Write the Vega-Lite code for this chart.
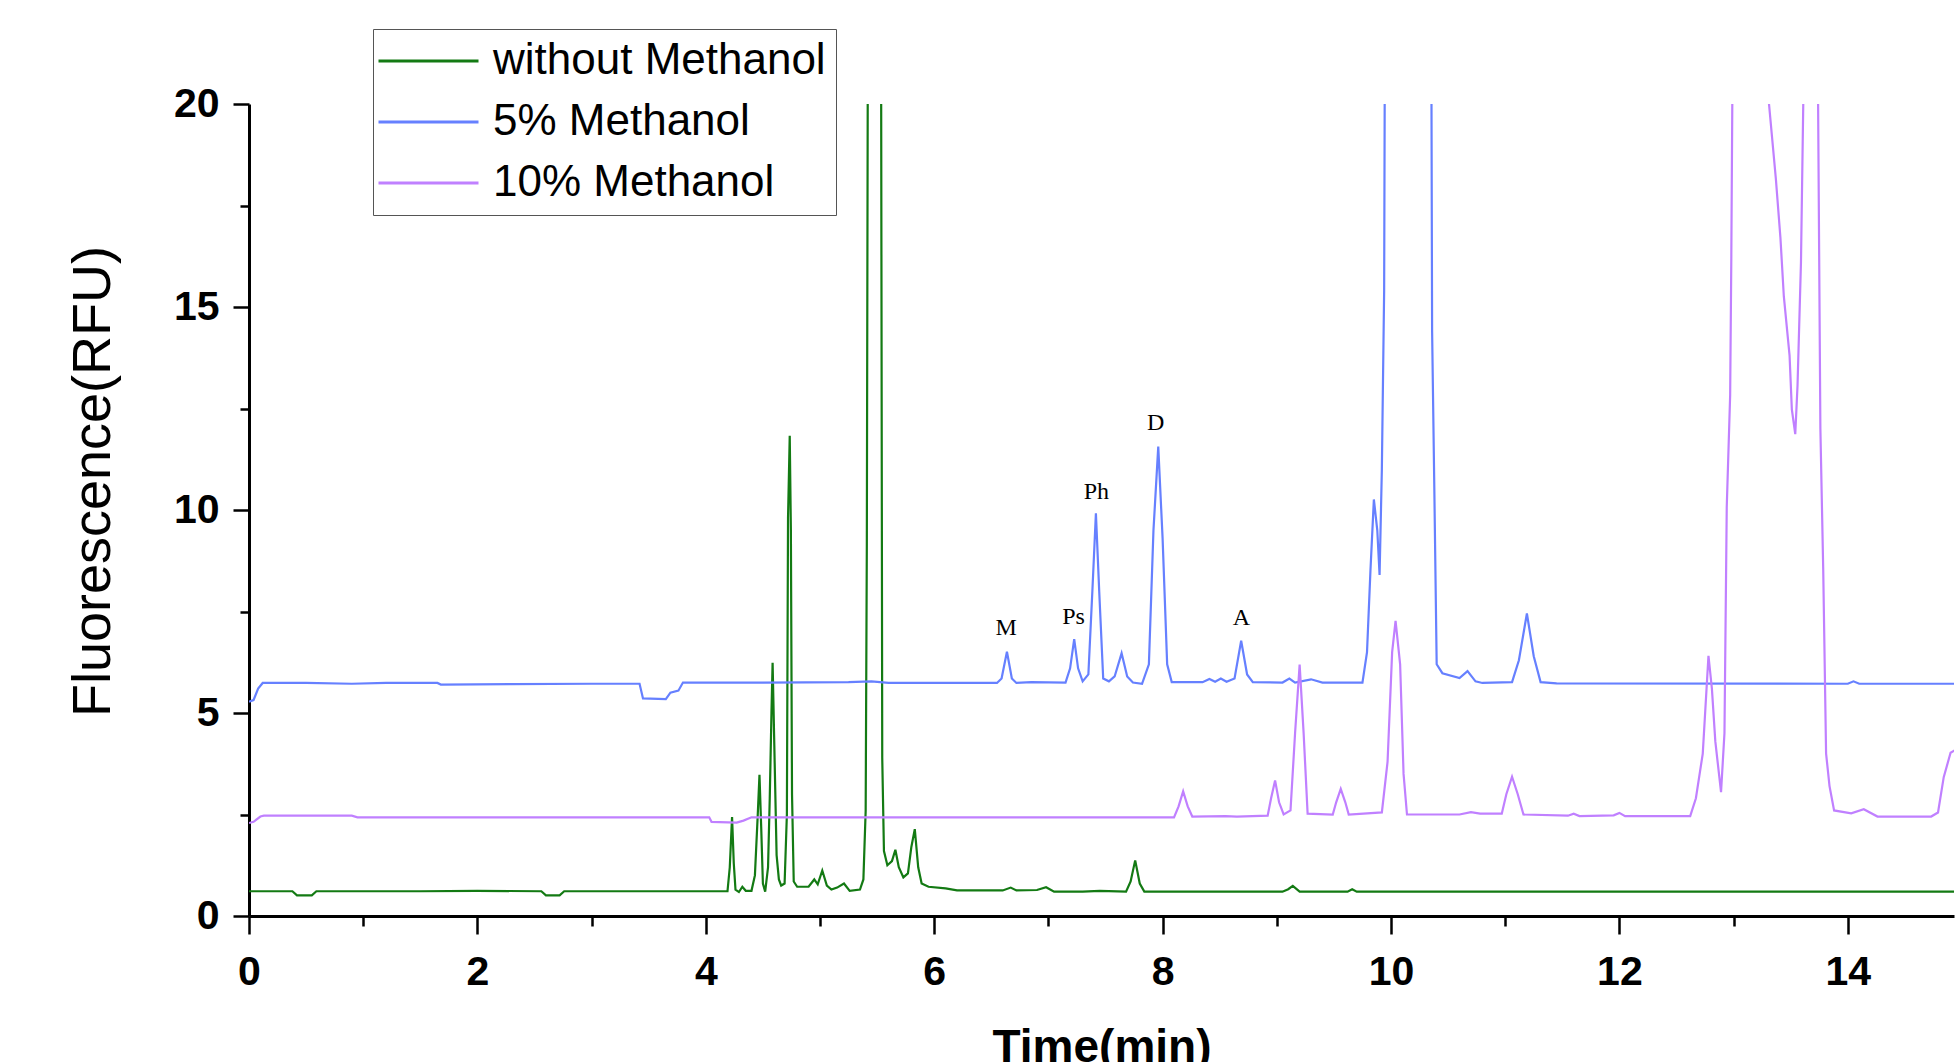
{
  "$schema": "https://vega.github.io/schema/vega-lite/v6.json",
  "width": 1705,
  "height": 812,
  "autosize": {"type": "none"},
  "padding": {"left": 249, "top": 104, "right": 1, "bottom": 146},
  "background": "white",
  "config": {"view": {"stroke": null}},
  "datasets": {
    "labels": [
      {"t": 6.63, "v": 7.09, "label": "M"},
      {"t": 7.22, "v": 7.37, "label": "Ps"},
      {"t": 7.42, "v": 10.45, "label": "Ph"},
      {"t": 7.94, "v": 12.15, "label": "D"},
      {"t": 8.69, "v": 7.33, "label": "A"}
    ],
    "traces": [
      {"series": "without Methanol", "t": 0, "v": 0.61},
      {"series": "without Methanol", "t": 0.38, "v": 0.61},
      {"series": "without Methanol", "t": 0.42, "v": 0.51},
      {"series": "without Methanol", "t": 0.55, "v": 0.51},
      {"series": "without Methanol", "t": 0.59, "v": 0.61},
      {"series": "without Methanol", "t": 1.5, "v": 0.61},
      {"series": "without Methanol", "t": 2.0, "v": 0.62},
      {"series": "without Methanol", "t": 2.56, "v": 0.61},
      {"series": "without Methanol", "t": 2.6, "v": 0.51},
      {"series": "without Methanol", "t": 2.72, "v": 0.51},
      {"series": "without Methanol", "t": 2.76, "v": 0.61},
      {"series": "without Methanol", "t": 4.19, "v": 0.61},
      {"series": "without Methanol", "t": 4.21, "v": 1.2},
      {"series": "without Methanol", "t": 4.23, "v": 2.44},
      {"series": "without Methanol", "t": 4.245, "v": 1.3},
      {"series": "without Methanol", "t": 4.26, "v": 0.65},
      {"series": "without Methanol", "t": 4.29, "v": 0.59},
      {"series": "without Methanol", "t": 4.32, "v": 0.72},
      {"series": "without Methanol", "t": 4.35, "v": 0.62},
      {"series": "without Methanol", "t": 4.4, "v": 0.62},
      {"series": "without Methanol", "t": 4.43, "v": 1.0},
      {"series": "without Methanol", "t": 4.455, "v": 2.5},
      {"series": "without Methanol", "t": 4.47, "v": 3.48},
      {"series": "without Methanol", "t": 4.485, "v": 2.2},
      {"series": "without Methanol", "t": 4.5, "v": 0.8},
      {"series": "without Methanol", "t": 4.52, "v": 0.6},
      {"series": "without Methanol", "t": 4.545, "v": 1.2},
      {"series": "without Methanol", "t": 4.56, "v": 2.9},
      {"series": "without Methanol", "t": 4.575, "v": 5.0},
      {"series": "without Methanol", "t": 4.585, "v": 6.24},
      {"series": "without Methanol", "t": 4.6, "v": 4.2},
      {"series": "without Methanol", "t": 4.62, "v": 1.5},
      {"series": "without Methanol", "t": 4.64, "v": 0.9},
      {"series": "without Methanol", "t": 4.66, "v": 0.75},
      {"series": "without Methanol", "t": 4.69, "v": 0.8},
      {"series": "without Methanol", "t": 4.71, "v": 2.5},
      {"series": "without Methanol", "t": 4.72, "v": 9.8},
      {"series": "without Methanol", "t": 4.735, "v": 11.83},
      {"series": "without Methanol", "t": 4.745, "v": 9.5},
      {"series": "without Methanol", "t": 4.755, "v": 3.0},
      {"series": "without Methanol", "t": 4.77, "v": 0.85},
      {"series": "without Methanol", "t": 4.8, "v": 0.72},
      {"series": "without Methanol", "t": 4.9, "v": 0.72},
      {"series": "without Methanol", "t": 4.95, "v": 0.9},
      {"series": "without Methanol", "t": 4.98, "v": 0.78},
      {"series": "without Methanol", "t": 5.02, "v": 1.12},
      {"series": "without Methanol", "t": 5.06, "v": 0.75},
      {"series": "without Methanol", "t": 5.1, "v": 0.65},
      {"series": "without Methanol", "t": 5.15, "v": 0.7},
      {"series": "without Methanol", "t": 5.21, "v": 0.8},
      {"series": "without Methanol", "t": 5.26, "v": 0.62},
      {"series": "without Methanol", "t": 5.35, "v": 0.65},
      {"series": "without Methanol", "t": 5.38, "v": 0.9},
      {"series": "without Methanol", "t": 5.4, "v": 2.6},
      {"series": "without Methanol", "t": 5.41, "v": 9.1},
      {"series": "without Methanol", "t": 5.425, "v": 30},
      {"series": "without Methanol", "t": 5.53, "v": 30},
      {"series": "without Methanol", "t": 5.545, "v": 3.9},
      {"series": "without Methanol", "t": 5.56, "v": 1.6},
      {"series": "without Methanol", "t": 5.59, "v": 1.25},
      {"series": "without Methanol", "t": 5.63, "v": 1.35},
      {"series": "without Methanol", "t": 5.66, "v": 1.63},
      {"series": "without Methanol", "t": 5.69, "v": 1.2},
      {"series": "without Methanol", "t": 5.73, "v": 0.95},
      {"series": "without Methanol", "t": 5.77, "v": 1.05},
      {"series": "without Methanol", "t": 5.8, "v": 1.7},
      {"series": "without Methanol", "t": 5.83, "v": 2.14},
      {"series": "without Methanol", "t": 5.86, "v": 1.2},
      {"series": "without Methanol", "t": 5.89, "v": 0.8},
      {"series": "without Methanol", "t": 5.95, "v": 0.72},
      {"series": "without Methanol", "t": 6.1, "v": 0.68},
      {"series": "without Methanol", "t": 6.2, "v": 0.63},
      {"series": "without Methanol", "t": 6.6, "v": 0.63},
      {"series": "without Methanol", "t": 6.67, "v": 0.7},
      {"series": "without Methanol", "t": 6.72, "v": 0.63},
      {"series": "without Methanol", "t": 6.9, "v": 0.64},
      {"series": "without Methanol", "t": 6.98, "v": 0.71},
      {"series": "without Methanol", "t": 7.05, "v": 0.6},
      {"series": "without Methanol", "t": 7.3, "v": 0.6},
      {"series": "without Methanol", "t": 7.45, "v": 0.62},
      {"series": "without Methanol", "t": 7.68, "v": 0.6},
      {"series": "without Methanol", "t": 7.72, "v": 0.85},
      {"series": "without Methanol", "t": 7.76, "v": 1.37},
      {"series": "without Methanol", "t": 7.8, "v": 0.8},
      {"series": "without Methanol", "t": 7.84, "v": 0.6},
      {"series": "without Methanol", "t": 9.05, "v": 0.6},
      {"series": "without Methanol", "t": 9.1, "v": 0.66},
      {"series": "without Methanol", "t": 9.14, "v": 0.74},
      {"series": "without Methanol", "t": 9.2, "v": 0.6},
      {"series": "without Methanol", "t": 9.62, "v": 0.6},
      {"series": "without Methanol", "t": 9.66, "v": 0.66},
      {"series": "without Methanol", "t": 9.7, "v": 0.6},
      {"series": "without Methanol", "t": 15, "v": 0.6},

      {"series": "5% Methanol", "t": 0, "v": 5.28},
      {"series": "5% Methanol", "t": 0.04, "v": 5.32},
      {"series": "5% Methanol", "t": 0.08, "v": 5.6},
      {"series": "5% Methanol", "t": 0.12, "v": 5.74},
      {"series": "5% Methanol", "t": 0.5, "v": 5.74},
      {"series": "5% Methanol", "t": 0.9, "v": 5.72},
      {"series": "5% Methanol", "t": 1.2, "v": 5.74},
      {"series": "5% Methanol", "t": 1.65, "v": 5.74},
      {"series": "5% Methanol", "t": 1.68, "v": 5.7},
      {"series": "5% Methanol", "t": 2.3, "v": 5.71},
      {"series": "5% Methanol", "t": 3.0, "v": 5.72},
      {"series": "5% Methanol", "t": 3.42, "v": 5.72},
      {"series": "5% Methanol", "t": 3.45, "v": 5.36},
      {"series": "5% Methanol", "t": 3.65, "v": 5.34},
      {"series": "5% Methanol", "t": 3.69, "v": 5.5},
      {"series": "5% Methanol", "t": 3.76, "v": 5.55},
      {"series": "5% Methanol", "t": 3.8, "v": 5.75},
      {"series": "5% Methanol", "t": 4.5, "v": 5.75},
      {"series": "5% Methanol", "t": 5.25, "v": 5.76},
      {"series": "5% Methanol", "t": 5.45, "v": 5.78},
      {"series": "5% Methanol", "t": 5.6, "v": 5.74},
      {"series": "5% Methanol", "t": 6.55, "v": 5.74},
      {"series": "5% Methanol", "t": 6.59, "v": 5.85},
      {"series": "5% Methanol", "t": 6.637, "v": 6.51},
      {"series": "5% Methanol", "t": 6.68, "v": 5.85},
      {"series": "5% Methanol", "t": 6.72, "v": 5.74},
      {"series": "5% Methanol", "t": 6.85, "v": 5.76},
      {"series": "5% Methanol", "t": 7.15, "v": 5.75},
      {"series": "5% Methanol", "t": 7.19, "v": 6.1},
      {"series": "5% Methanol", "t": 7.226, "v": 6.82},
      {"series": "5% Methanol", "t": 7.26, "v": 6.1},
      {"series": "5% Methanol", "t": 7.3, "v": 5.78},
      {"series": "5% Methanol", "t": 7.35, "v": 5.95},
      {"series": "5% Methanol", "t": 7.385, "v": 8.0},
      {"series": "5% Methanol", "t": 7.416, "v": 9.92},
      {"series": "5% Methanol", "t": 7.445, "v": 8.0},
      {"series": "5% Methanol", "t": 7.48, "v": 5.85},
      {"series": "5% Methanol", "t": 7.53, "v": 5.78},
      {"series": "5% Methanol", "t": 7.58, "v": 5.9},
      {"series": "5% Methanol", "t": 7.641, "v": 6.47},
      {"series": "5% Methanol", "t": 7.69, "v": 5.9},
      {"series": "5% Methanol", "t": 7.74, "v": 5.75},
      {"series": "5% Methanol", "t": 7.82, "v": 5.72},
      {"series": "5% Methanol", "t": 7.88, "v": 6.2},
      {"series": "5% Methanol", "t": 7.92, "v": 9.5},
      {"series": "5% Methanol", "t": 7.962, "v": 11.56},
      {"series": "5% Methanol", "t": 8.0, "v": 9.3},
      {"series": "5% Methanol", "t": 8.04, "v": 6.2},
      {"series": "5% Methanol", "t": 8.08, "v": 5.76},
      {"series": "5% Methanol", "t": 8.35, "v": 5.76},
      {"series": "5% Methanol", "t": 8.41, "v": 5.84},
      {"series": "5% Methanol", "t": 8.46, "v": 5.77},
      {"series": "5% Methanol", "t": 8.51, "v": 5.85},
      {"series": "5% Methanol", "t": 8.56, "v": 5.77},
      {"series": "5% Methanol", "t": 8.63, "v": 5.85},
      {"series": "5% Methanol", "t": 8.688, "v": 6.78},
      {"series": "5% Methanol", "t": 8.74, "v": 5.95},
      {"series": "5% Methanol", "t": 8.79, "v": 5.76},
      {"series": "5% Methanol", "t": 9.05, "v": 5.75},
      {"series": "5% Methanol", "t": 9.11, "v": 5.85},
      {"series": "5% Methanol", "t": 9.16, "v": 5.75},
      {"series": "5% Methanol", "t": 9.3, "v": 5.83},
      {"series": "5% Methanol", "t": 9.4, "v": 5.75},
      {"series": "5% Methanol", "t": 9.75, "v": 5.75},
      {"series": "5% Methanol", "t": 9.79, "v": 6.5},
      {"series": "5% Methanol", "t": 9.82, "v": 8.5},
      {"series": "5% Methanol", "t": 9.85, "v": 10.26},
      {"series": "5% Methanol", "t": 9.88, "v": 9.5},
      {"series": "5% Methanol", "t": 9.9, "v": 8.4},
      {"series": "5% Methanol", "t": 9.92, "v": 11.0},
      {"series": "5% Methanol", "t": 9.94, "v": 15.4},
      {"series": "5% Methanol", "t": 9.955, "v": 30},
      {"series": "5% Methanol", "t": 10.345, "v": 30},
      {"series": "5% Methanol", "t": 10.36, "v": 14.4},
      {"series": "5% Methanol", "t": 10.38, "v": 10.4},
      {"series": "5% Methanol", "t": 10.4, "v": 6.2},
      {"series": "5% Methanol", "t": 10.45, "v": 5.98},
      {"series": "5% Methanol", "t": 10.6, "v": 5.86},
      {"series": "5% Methanol", "t": 10.67, "v": 6.03},
      {"series": "5% Methanol", "t": 10.74, "v": 5.78},
      {"series": "5% Methanol", "t": 10.8, "v": 5.74},
      {"series": "5% Methanol", "t": 11.06, "v": 5.76},
      {"series": "5% Methanol", "t": 11.12, "v": 6.3},
      {"series": "5% Methanol", "t": 11.19, "v": 7.45},
      {"series": "5% Methanol", "t": 11.25, "v": 6.4},
      {"series": "5% Methanol", "t": 11.31, "v": 5.76},
      {"series": "5% Methanol", "t": 11.45, "v": 5.73},
      {"series": "5% Methanol", "t": 14.0, "v": 5.72},
      {"series": "5% Methanol", "t": 14.05, "v": 5.78},
      {"series": "5% Methanol", "t": 14.1, "v": 5.72},
      {"series": "5% Methanol", "t": 15, "v": 5.72},

      {"series": "10% Methanol", "t": 0, "v": 2.29},
      {"series": "10% Methanol", "t": 0.04, "v": 2.32},
      {"series": "10% Methanol", "t": 0.1, "v": 2.45},
      {"series": "10% Methanol", "t": 0.13, "v": 2.47},
      {"series": "10% Methanol", "t": 0.9, "v": 2.47},
      {"series": "10% Methanol", "t": 0.95, "v": 2.43},
      {"series": "10% Methanol", "t": 4.03, "v": 2.43},
      {"series": "10% Methanol", "t": 4.05, "v": 2.32},
      {"series": "10% Methanol", "t": 4.27, "v": 2.3},
      {"series": "10% Methanol", "t": 4.33, "v": 2.35},
      {"series": "10% Methanol", "t": 4.4, "v": 2.43},
      {"series": "10% Methanol", "t": 8.1, "v": 2.43},
      {"series": "10% Methanol", "t": 8.14, "v": 2.7},
      {"series": "10% Methanol", "t": 8.18, "v": 3.07},
      {"series": "10% Methanol", "t": 8.22, "v": 2.7},
      {"series": "10% Methanol", "t": 8.26, "v": 2.45},
      {"series": "10% Methanol", "t": 8.55, "v": 2.46},
      {"series": "10% Methanol", "t": 8.65, "v": 2.45},
      {"series": "10% Methanol", "t": 8.92, "v": 2.47},
      {"series": "10% Methanol", "t": 8.95, "v": 2.9},
      {"series": "10% Methanol", "t": 8.985, "v": 3.34},
      {"series": "10% Methanol", "t": 9.02, "v": 2.8},
      {"series": "10% Methanol", "t": 9.06, "v": 2.5},
      {"series": "10% Methanol", "t": 9.12, "v": 2.6},
      {"series": "10% Methanol", "t": 9.16, "v": 4.5},
      {"series": "10% Methanol", "t": 9.2, "v": 6.19},
      {"series": "10% Methanol", "t": 9.235, "v": 4.5},
      {"series": "10% Methanol", "t": 9.27, "v": 2.52},
      {"series": "10% Methanol", "t": 9.49, "v": 2.5},
      {"series": "10% Methanol", "t": 9.52, "v": 2.8},
      {"series": "10% Methanol", "t": 9.56, "v": 3.13},
      {"series": "10% Methanol", "t": 9.6, "v": 2.8},
      {"series": "10% Methanol", "t": 9.63, "v": 2.5},
      {"series": "10% Methanol", "t": 9.92, "v": 2.55},
      {"series": "10% Methanol", "t": 9.97, "v": 3.8},
      {"series": "10% Methanol", "t": 10.01, "v": 6.5},
      {"series": "10% Methanol", "t": 10.04, "v": 7.27},
      {"series": "10% Methanol", "t": 10.08, "v": 6.2},
      {"series": "10% Methanol", "t": 10.11, "v": 3.5},
      {"series": "10% Methanol", "t": 10.14, "v": 2.5},
      {"series": "10% Methanol", "t": 10.6, "v": 2.5},
      {"series": "10% Methanol", "t": 10.7, "v": 2.56},
      {"series": "10% Methanol", "t": 10.78, "v": 2.52},
      {"series": "10% Methanol", "t": 10.97, "v": 2.52},
      {"series": "10% Methanol", "t": 11.01, "v": 3.0},
      {"series": "10% Methanol", "t": 11.06, "v": 3.43},
      {"series": "10% Methanol", "t": 11.11, "v": 3.0},
      {"series": "10% Methanol", "t": 11.16, "v": 2.5},
      {"series": "10% Methanol", "t": 11.55, "v": 2.47},
      {"series": "10% Methanol", "t": 11.6, "v": 2.52},
      {"series": "10% Methanol", "t": 11.65, "v": 2.46},
      {"series": "10% Methanol", "t": 11.95, "v": 2.48},
      {"series": "10% Methanol", "t": 12.0, "v": 2.54},
      {"series": "10% Methanol", "t": 12.05, "v": 2.46},
      {"series": "10% Methanol", "t": 12.62, "v": 2.46},
      {"series": "10% Methanol", "t": 12.67, "v": 2.9},
      {"series": "10% Methanol", "t": 12.73, "v": 4.0},
      {"series": "10% Methanol", "t": 12.78, "v": 6.41},
      {"series": "10% Methanol", "t": 12.81, "v": 5.6},
      {"series": "10% Methanol", "t": 12.84, "v": 4.3},
      {"series": "10% Methanol", "t": 12.89, "v": 3.05},
      {"series": "10% Methanol", "t": 12.92, "v": 4.5},
      {"series": "10% Methanol", "t": 12.94, "v": 10.06},
      {"series": "10% Methanol", "t": 12.97, "v": 12.84},
      {"series": "10% Methanol", "t": 12.98, "v": 16.2},
      {"series": "10% Methanol", "t": 13.0, "v": 25},
      {"series": "10% Methanol", "t": 13.2, "v": 26},
      {"series": "10% Methanol", "t": 13.31, "v": 20},
      {"series": "10% Methanol", "t": 13.37, "v": 18.16},
      {"series": "10% Methanol", "t": 13.41, "v": 16.71},
      {"series": "10% Methanol", "t": 13.44, "v": 15.26},
      {"series": "10% Methanol", "t": 13.49, "v": 13.81},
      {"series": "10% Methanol", "t": 13.51, "v": 12.48},
      {"series": "10% Methanol", "t": 13.54, "v": 11.87},
      {"series": "10% Methanol", "t": 13.56, "v": 13.08},
      {"series": "10% Methanol", "t": 13.59, "v": 16.1},
      {"series": "10% Methanol", "t": 13.61, "v": 20},
      {"series": "10% Methanol", "t": 13.68, "v": 26},
      {"series": "10% Methanol", "t": 13.74, "v": 20},
      {"series": "10% Methanol", "t": 13.76, "v": 12},
      {"series": "10% Methanol", "t": 13.785, "v": 8.5},
      {"series": "10% Methanol", "t": 13.81, "v": 4.0},
      {"series": "10% Methanol", "t": 13.84, "v": 3.2},
      {"series": "10% Methanol", "t": 13.88, "v": 2.6},
      {"series": "10% Methanol", "t": 14.03, "v": 2.53},
      {"series": "10% Methanol", "t": 14.14, "v": 2.63},
      {"series": "10% Methanol", "t": 14.26, "v": 2.45},
      {"series": "10% Methanol", "t": 14.73, "v": 2.45},
      {"series": "10% Methanol", "t": 14.79, "v": 2.55},
      {"series": "10% Methanol", "t": 14.84, "v": 3.42},
      {"series": "10% Methanol", "t": 14.9, "v": 4.02},
      {"series": "10% Methanol", "t": 14.95, "v": 4.1}
    ]
  },
  "layer": [
    {
      "data": {"name": "traces"},
      "mark": {"type": "line", "clip": true, "strokeWidth": 2.2},
      "encoding": {
        "x": {
          "field": "t", "type": "quantitative",
          "scale": {"domain": [0, 14.93], "nice": false, "zero": false},
          "axis": {
            "title": "Time(min)",
            "values": [0, 1, 2, 3, 4, 5, 6, 7, 8, 9, 10, 11, 12, 13, 14],
            "labelExpr": "datum.value % 2 == 0 ? format(datum.value, 'd') : ''",
            "tickSize": {"condition": {"test": "datum.value % 2 == 0", "value": 18}, "value": 10},
            "tickWidth": 2.5, "tickColor": "black",
            "domainWidth": 3, "domainColor": "black",
            "grid": false,
            "labelFont": "Liberation Sans", "labelFontSize": 41, "labelFontWeight": "bold",
            "labelColor": "black", "labelPadding": 18, "labelFlush": false, "labelOverlap": false,
            "titleFont": "Liberation Sans", "titleFontSize": 46, "titleFontWeight": "bold",
            "titleColor": "black", "titlePadding": 33
          }
        },
        "y": {
          "field": "v", "type": "quantitative",
          "scale": {"domain": [0, 20], "nice": false},
          "axis": {
            "title": "Fluorescence(RFU)",
            "values": [0, 2.5, 5, 7.5, 10, 12.5, 15, 17.5, 20],
            "labelExpr": "datum.value % 5 == 0 ? format(datum.value, 'd') : ''",
            "tickSize": {"condition": {"test": "datum.value % 5 == 0", "value": 16}, "value": 9},
            "tickWidth": 2.5, "tickColor": "black",
            "domainWidth": 3, "domainColor": "black",
            "grid": false,
            "labelFont": "Liberation Sans", "labelFontSize": 41, "labelFontWeight": "bold",
            "labelColor": "black", "labelPadding": 14, "labelFlush": false, "labelOverlap": false,
            "titleFont": "Liberation Sans", "titleFontSize": 54, "titleFontWeight": "normal",
            "titleColor": "black", "titlePadding": 53, "titleY": 377
          }
        },
        "color": {
          "field": "series", "type": "nominal",
          "scale": {
            "domain": ["without Methanol", "5% Methanol", "10% Methanol"],
            "range": ["#137a13", "#6680ff", "#c080ff"]
          },
          "legend": {
            "orient": "none", "legendX": 124, "legendY": -75,
            "title": null,
            "symbolType": "M-1.325,0H3.675", "symbolSize": 1600, "symbolStrokeWidth": 3,
            "labelFont": "Liberation Sans", "labelFontSize": 44, "labelColor": "black",
            "labelOffset": 66, "labelLimit": 0, "rowPadding": 17,
            "strokeColor": "#555", "fillColor": "white", "padding": 10
          }
        }
      }
    },
    {
      "data": {"name": "labels"},
      "mark": {"type": "text", "font": "Liberation Serif", "fontSize": 24, "color": "black", "align": "center", "baseline": "middle"},
      "encoding": {
        "x": {"field": "t", "type": "quantitative"},
        "y": {"field": "v", "type": "quantitative"},
        "text": {"field": "label"}
      }
    }
  ]
}
